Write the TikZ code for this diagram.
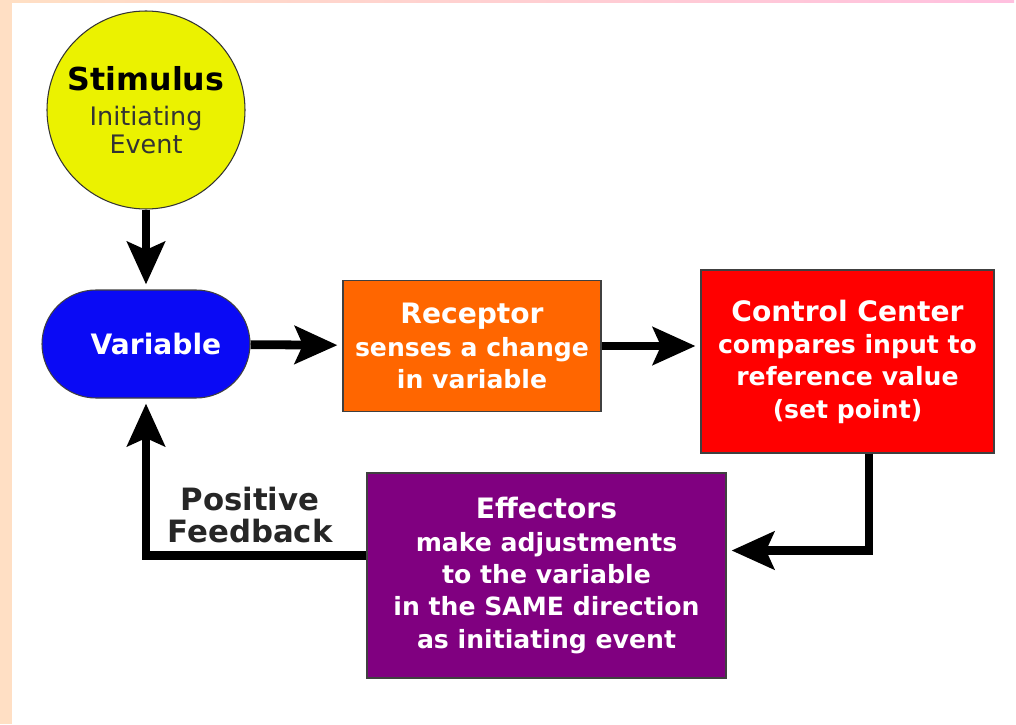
\documentclass[tikz,border=0pt]{standalone}
\usepackage{fontspec}
\setmainfont{DejaVu Sans}
\usepackage{tikz}
\usetikzlibrary{arrows.meta}
\definecolor{peach}{HTML}{FFDFC4}
\definecolor{pinkish}{HTML}{FFC0DF}
\definecolor{stimyellow}{HTML}{EBF200}
\definecolor{varblue}{HTML}{0A0AF5}
\definecolor{recorange}{HTML}{FF6600}
\definecolor{ctrlred}{HTML}{FF0000}
\definecolor{effpurple}{HTML}{800080}
\newcommand{\headtxt}[1]{{\fontsize{16}{19}\selectfont #1}}
\begin{document}
\begin{tikzpicture}[
		box/.style={draw=black!75, line width=.6pt, text=white, align=center, font=\fontsize{14.3}{18.4}\selectfont\bfseries},
		arr/.style={line width=5pt, -{Stealth[length=8.5mm, width=7.5mm, inset=1.6mm]}, shorten >=1mm}]
		\useasboundingbox(0, 0)rectangle(20.32, 14.48);
		\fill[white](0, 0)rectangle(20.32, 14.48);
		\fill[peach](0, 0)rectangle(.24, 14.48);
		\shade[left color=peach, right color=pinkish](.24, 14.43)rectangle(20.28, 14.48);
		\node[circle, draw=black!80, line width=.6pt, fill=stimyellow, minimum size=3.96cm, align=center, font=\fontsize{14.5}{16}\selectfont](stim)at(2.92, 12.28){{\fontsize{18}{20}\selectfont\bfseries Stimulus}\\[4pt]\textcolor{black!80}{Initiating}\\\textcolor{black!80}{Event}};
		\node[box, fill=varblue, minimum width=4.16cm, minimum height=2.16cm, rounded corners=1.08cm](var)at(2.92, 7.6){\headtxt{\hspace*{4mm}Variable}};
		\node[box, fill=recorange, minimum width=5.16cm, minimum height=2.62cm](rec)at(9.44, 7.56){\headtxt{Receptor}\\senses a change\\in variable};
		\node[box, fill=ctrlred, minimum width=5.86cm, minimum height=3.66cm](ctrl)at(16.95, 7.25){\headtxt{Control Center}\\compares input to\\reference value\\(set point)};
		\node[box, fill=effpurple, minimum width=7.18cm, minimum height=4.1cm](eff)at(10.93, 2.97){\headtxt{Effectors}\\make adjustments\\to the variable\\in the SAME direction\\as initiating event};
		\node[align=center, text=black!85, font=\fontsize{17.5}{18.3}\selectfont\bfseries](fb)at(5.0, 4.18){Positive\\Feedback};
		\draw[arr](stim)--(var);
		\draw[arr](var)--(rec);
		\draw[arr](rec.east)--(rec.east-|ctrl.west);
		\draw[arr]([xshift=4.3mm]ctrl.south)|-([yshift=5mm]eff.east);
		\draw[arr]([yshift=4mm]eff.west)-|(var.south);
	\end{tikzpicture}
\end{document}
